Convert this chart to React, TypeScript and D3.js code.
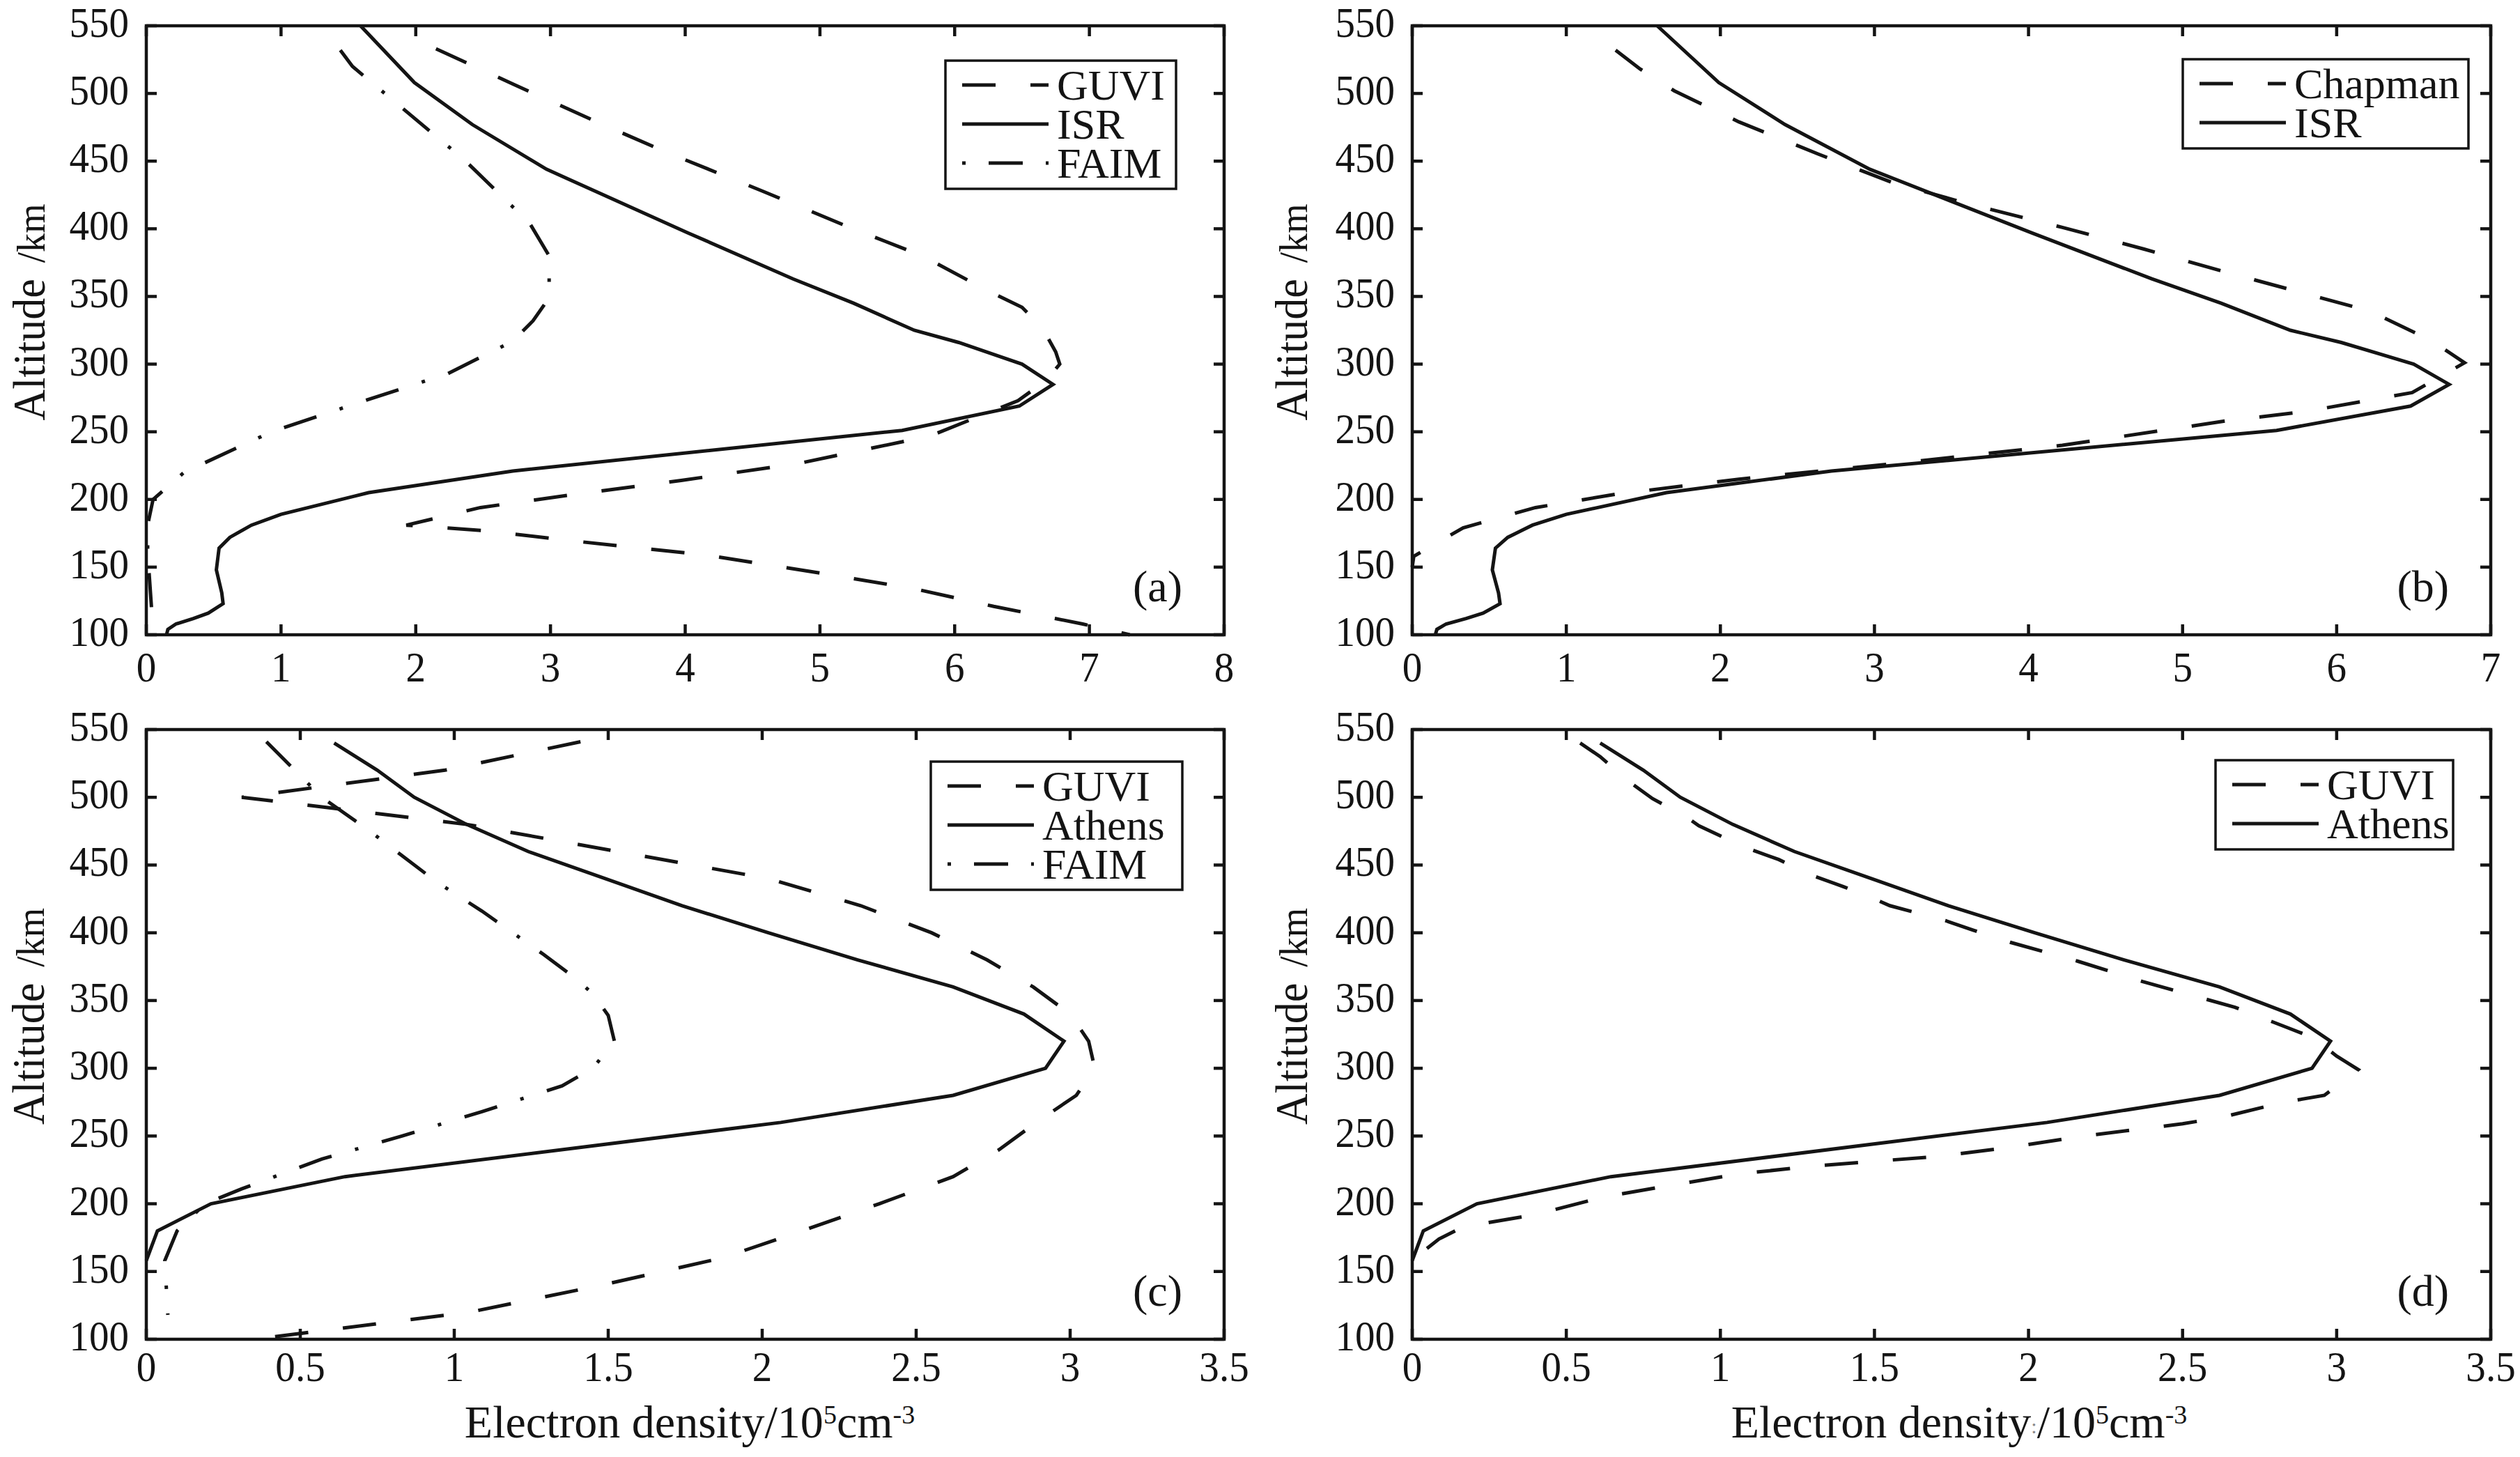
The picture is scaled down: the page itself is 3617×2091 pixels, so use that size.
import React from 'react';
import * as d3 from 'd3';

const W = 3617;
const H = 2091;

// ---------- data: [altitude km, electron density 1e5 cm^-3] ----------
const isrProfile: [number, number][] = [
  [550, 1.59], [508, 1.99], [477, 2.42], [444, 2.97], [397, 4.02], [363, 4.8], [345, 5.25],
  [325, 5.7], [316, 6.03], [300, 6.5], [285, 6.73], [269, 6.48], [251, 5.61], [221, 2.72],
  [205, 1.65], [189, 1.0], [181, 0.78], [172, 0.62], [164, 0.54], [148, 0.52], [131, 0.56],
  [123, 0.57], [116, 0.46], [112, 0.35], [108, 0.22], [104, 0.16], [100, 0.15],
];

const guviA: [number, number][] = [
  [533, 2.15], [507, 2.72], [480, 3.32], [457, 3.85], [428, 4.57], [401, 5.22], [380, 5.76],
  [355, 6.23], [342, 6.5], [327, 6.65], [309, 6.75], [300, 6.78], [288, 6.68], [273, 6.47],
  [247, 5.82], [227, 4.86], [214, 3.97], [204, 3.2], [194, 2.48], [181, 1.93], [177, 2.5],
  [169, 3.2], [159, 4.15], [146, 4.98], [134, 5.7], [121, 6.29], [108, 6.95], [100, 7.3],
];

const faimA: [number, number][] = [
  [532, 1.44], [520, 1.53], [490, 1.89], [451, 2.36], [419, 2.69], [405, 2.84], [390, 2.93],
  [380, 2.99], [349, 2.99], [332, 2.87], [317, 2.72], [293, 2.24], [270, 1.53], [250, 0.93],
  [220, 0.28], [207, 0.13], [200, 0.05], [181, 0.01], [161, 0.01], [118, 0.04],
];

const chapmanB: [number, number][] = [
  [532, 1.32], [518, 1.48], [502, 1.7], [479, 2.12], [455, 2.64], [434, 3.12], [419, 3.59],
  [401, 4.22], [385, 4.75], [368, 5.28], [352, 5.8], [339, 6.22], [317, 6.62], [301, 6.83],
  [279, 6.49], [265, 5.8], [258, 5.28], [240, 4.22], [227, 3.17], [215, 2.12], [204, 1.33],
  [194, 0.8], [179, 0.33], [158, 0.01], [150, 0.0],
];

const athensProfile: [number, number][] = [
  [540, 0.61], [520, 0.75], [500, 0.87], [480, 1.04], [460, 1.24], [440, 1.49], [420, 1.74],
  [400, 2.02], [380, 2.31], [360, 2.62], [340, 2.85], [320, 2.98], [300, 2.92], [280, 2.62],
  [260, 2.06], [220, 0.645], [200, 0.21], [180, 0.036], [158, 0.0],
];

const guviC: [number, number][] = [
  [541, 1.41], [520, 0.97], [500, 0.31], [480, 1.04], [460, 1.53], [440, 2.02], [420, 2.32],
  [400, 2.55], [380, 2.73], [360, 2.88], [340, 3.0], [320, 3.06], [300, 3.08], [280, 3.02],
  [260, 2.89], [240, 2.77], [220, 2.62], [200, 2.38], [180, 2.13], [160, 1.87], [140, 1.48],
  [120, 1.05], [100, 0.35],
];

const faimC: [number, number][] = [
  [541, 0.39], [500, 0.57], [476, 0.72], [438, 0.94], [416, 1.09], [384, 1.29], [367, 1.39],
  [355, 1.45], [339, 1.5], [320, 1.52], [300, 1.45], [287, 1.35], [268, 1.09], [250, 0.83],
  [233, 0.57], [211, 0.31], [200, 0.19], [180, 0.1], [158, 0.06], [118, 0.07],
];

const guviD: [number, number][] = [
  [540, 0.545], [530, 0.61], [513, 0.695], [499, 0.78], [486, 0.886], [479, 0.93], [463, 1.08],
  [454, 1.19], [443, 1.29], [434, 1.4], [425, 1.5], [420, 1.55], [409, 1.73], [402, 1.82],
  [393, 1.94], [379, 2.16], [364, 2.37], [345, 2.67], [330, 2.84], [323, 2.92], [309, 3.0],
  [299, 3.07], [280, 2.96], [275, 2.83], [264, 2.63], [259, 2.5], [250, 2.18], [242, 1.95],
  [235, 1.71], [228, 1.31], [222, 1.06], [214, 0.85], [205, 0.62], [192, 0.4], [183, 0.165],
  [174, 0.087], [162, 0.02], [151, 0.0],
];

const altTicks = [100, 150, 200, 250, 300, 350, 400, 450, 500, 550];
const xTicksA8 = [0, 1, 2, 3, 4, 5, 6, 7, 8];
const xTicksB7 = [0, 1, 2, 3, 4, 5, 6, 7];
const xTicksCD = [0, 0.5, 1, 1.5, 2, 2.5, 3, 3.5];

// ---------- styling ----------
const INK = '#141414';
const SERIF = '"Liberation Serif", "Times New Roman", Times, serif';
const DASH = '48,50';
const DASHDOT = '49,35,5,35';
const LEG_DASHDOT = '5,33,49,33,5,300';

type Style = 'solid' | 'dash' | 'dashdot';
interface Series { name: string; data: [number, number][]; style: Style }
interface Panel {
  id: string; left: number; right: number; top: number; bottom: number;
  xMax: number; xTicks: number[]; series: Series[]; xTickOff: number;
  legX: number; legY: number; legW: number; label: string; yLabelX: number;
  xLabel: boolean; xLabelX: number; oddMark: boolean;
}

const panels: Panel[] = [
  {
    id: 'a', left: 210, right: 1757, top: 37, bottom: 911, xMax: 8, xTicks: xTicksA8, xTickOff: 67,
    series: [
      { name: 'GUVI', data: guviA, style: 'dash' },
      { name: 'ISR', data: isrProfile, style: 'solid' },
      { name: 'FAIM', data: faimA, style: 'dashdot' },
    ],
    legX: 1357, legY: 87, legW: 331, label: '(a)', yLabelX: 64, xLabel: false, xLabelX: 0, oddMark: false,
  },
  {
    id: 'b', left: 2027, right: 3575, top: 37, bottom: 911, xMax: 7, xTicks: xTicksB7, xTickOff: 67,
    series: [
      { name: 'Chapman', data: chapmanB, style: 'dash' },
      { name: 'ISR', data: isrProfile, style: 'solid' },
    ],
    legX: 3133, legY: 85, legW: 410, label: '(b)', yLabelX: 1876, xLabel: false, xLabelX: 0, oddMark: false,
  },
  {
    id: 'c', left: 210, right: 1757, top: 1047, bottom: 1922, xMax: 3.5, xTicks: xTicksCD, xTickOff: 60,
    series: [
      { name: 'GUVI', data: guviC, style: 'dash' },
      { name: 'Athens', data: athensProfile, style: 'solid' },
      { name: 'FAIM', data: faimC, style: 'dashdot' },
    ],
    legX: 1336, legY: 1093, legW: 361, label: '(c)', yLabelX: 63, xLabel: true, xLabelX: 990, oddMark: false,
  },
  {
    id: 'd', left: 2027, right: 3575, top: 1047, bottom: 1922, xMax: 3.5, xTicks: xTicksCD, xTickOff: 60,
    series: [
      { name: 'GUVI', data: guviD, style: 'dash' },
      { name: 'Athens', data: athensProfile, style: 'solid' },
    ],
    legX: 3180, legY: 1091, legW: 341, label: '(d)', yLabelX: 1876, xLabel: true, xLabelX: 2812, oddMark: true,
  },
];

const fmt = (v: number) => String(v);

function PanelView({ p }: { p: Panel }) {
  const x = d3.scaleLinear().domain([0, p.xMax]).range([p.left, p.right]);
  const y = d3.scaleLinear().domain([100, 550]).range([p.bottom, p.top]);
  const line = d3.line<[number, number]>().x((d) => x(d[1])).y((d) => y(d[0]));
  const TL = 15;
  const rowGap = 56;
  const legH = 35 + (p.series.length - 1) * rowGap + 37;
  const midY = (p.top + p.bottom) / 2 - 26;

  return (
    <g>
      {/* data lines */}
      <g fill="none" stroke={INK} strokeWidth={5} strokeLinejoin="miter" strokeMiterlimit={4}>
        {p.series.map((s) => (
          <path
            key={s.name}
            d={line(s.data) || ''}
            strokeDasharray={s.style === 'dash' ? DASH : s.style === 'dashdot' ? DASHDOT : undefined}
          />
        ))}
      </g>
      {/* frame */}
      <rect x={p.left} y={p.top} width={p.right - p.left} height={p.bottom - p.top}
        fill="none" stroke={INK} strokeWidth={4.5} />
      {/* ticks */}
      <g stroke={INK} strokeWidth={4.5}>
        {altTicks.map((t) => (
          <g key={'y' + t}>
            <line x1={p.left} x2={p.left + TL} y1={y(t)} y2={y(t)} />
            <line x1={p.right} x2={p.right - TL} y1={y(t)} y2={y(t)} />
          </g>
        ))}
        {p.xTicks.map((t) => (
          <g key={'x' + t}>
            <line x1={x(t)} x2={x(t)} y1={p.bottom} y2={p.bottom - TL} />
            <line x1={x(t)} x2={x(t)} y1={p.top} y2={p.top + TL} />
          </g>
        ))}
      </g>
      {/* tick labels */}
      <g fontFamily={SERIF} fontSize={62} fill={INK}>
        {altTicks.map((t) => (
          <g key={'yl' + t} transform={`translate(${p.left - 25},${y(t) + 16}) scale(0.92,1)`}>
            <text textAnchor="end">{fmt(t)}</text>
          </g>
        ))}
        {p.xTicks.map((t) => (
          <g key={'xl' + t} transform={`translate(${x(t)},${p.bottom + p.xTickOff}) scale(0.92,1)`}>
            <text textAnchor="middle">{fmt(t)}</text>
          </g>
        ))}
      </g>
      {/* y axis label */}
      <g transform={`translate(${p.yLabelX},${midY}) rotate(-90) scale(0.94,1)`}>
        <text textAnchor="middle" fontFamily={SERIF} fontSize={66} fill={INK}>
          <tspan>Altitude</tspan>
          <tspan fontSize={58} dx={10}> /km</tspan>
        </text>
      </g>
      {/* x axis label */}
      {p.xLabel && (
        <text x={p.xLabelX} y={2063} textAnchor="middle" fontFamily={SERIF} fontSize={66} fill={INK}>
          <tspan>Electron density</tspan>
          {p.oddMark && <tspan fontSize={30} fill="#8a8a8a" dy={-6}>:</tspan>}
          <tspan dy={p.oddMark ? 6 : 0}>/10</tspan>
          <tspan fontSize={38} dy={-20}>5</tspan>
          <tspan dy={20}>cm</tspan>
          <tspan fontSize={38} dy={-20}>-3</tspan>
        </text>
      )}
      {/* panel letter */}
      <text x={p.right - 60} y={p.bottom - 48} textAnchor="end" fontFamily={SERIF} fontSize={64} fill={INK}>
        {p.label}
      </text>
      {/* legend */}
      <g>
        <rect x={p.legX} y={p.legY} width={p.legW} height={legH} fill="#fff" stroke={INK} strokeWidth={3.5} />
        {p.series.map((s, i) => {
          const ry = p.legY + 35 + i * rowGap;
          return (
            <g key={'lg' + s.name}>
              <line x1={p.legX + 24} x2={p.legX + 24 + 124} y1={ry} y2={ry} stroke={INK} strokeWidth={5}
                strokeDasharray={s.style === 'dash' ? DASH : s.style === 'dashdot' ? LEG_DASHDOT : undefined} />
              <text x={p.legX + 160} y={ry + 21} fontFamily={SERIF} fontSize={62} fill={INK}>{s.name}</text>
            </g>
          );
        })}
      </g>
    </g>
  );
}

export default function App() {
  React.useEffect(() => {
    document.body.style.margin = '0';
  }, []);
  return (
    <svg width={W} height={H} viewBox={`0 0 ${W} ${H}`} xmlns="http://www.w3.org/2000/svg"
      style={{ position: 'absolute', left: 0, top: 0, background: '#fff', display: 'block' }}>
      <rect x={0} y={0} width={W} height={H} fill="#fff" />
      {panels.map((p) => <PanelView key={p.id} p={p} />)}
    </svg>
  );
}
